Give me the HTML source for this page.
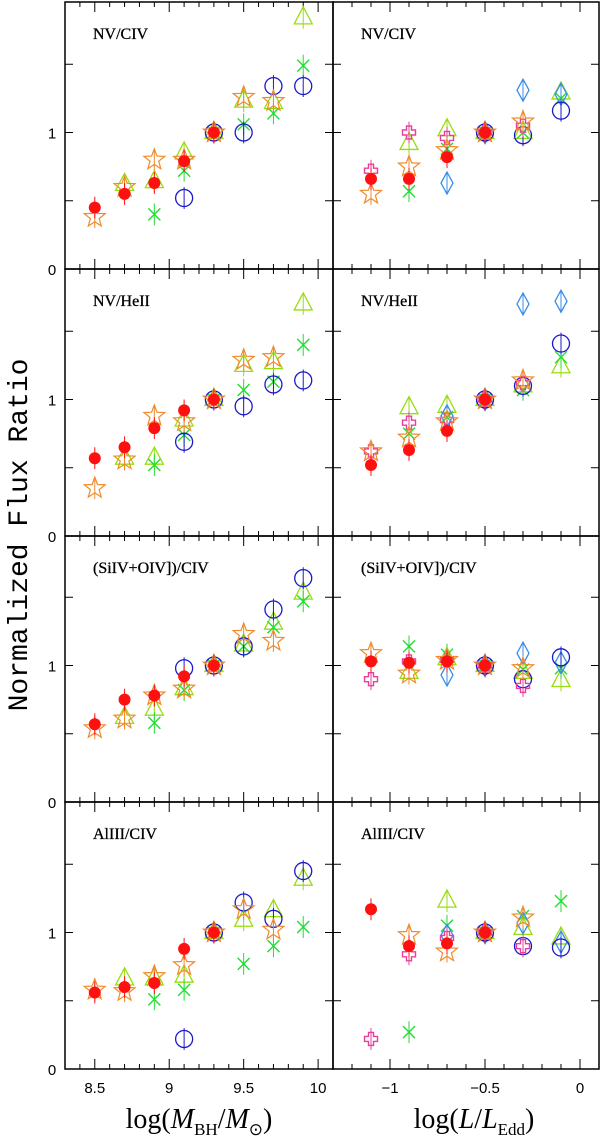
<!DOCTYPE html>
<html><head><meta charset="utf-8"><style>
html,body{margin:0;padding:0;background:#fff;width:600px;height:1141px;overflow:hidden}
svg{display:block}
</style></head><body>
<svg id="chart" width="600" height="1141" viewBox="0 0 600 1141" xmlns="http://www.w3.org/2000/svg">
<text x="0" y="0" transform="translate(27,535) rotate(-90)" text-anchor="middle" font-family="Liberation Mono, monospace" font-size="28" fill="#000">Normalized Flux Ratio</text>
<text x="199" y="1128" text-anchor="middle" font-family="Liberation Serif, serif" font-size="28" fill="#000">log(<tspan font-style="italic">M</tspan><tspan font-size="17" dy="7">BH</tspan><tspan dy="-7">/</tspan><tspan font-style="italic">M</tspan><tspan font-size="17" dy="7">⊙</tspan><tspan dy="-7">)</tspan></text>
<text x="474" y="1128" text-anchor="middle" font-family="Liberation Serif, serif" font-size="28" fill="#000">log(<tspan font-style="italic">L</tspan>/<tspan font-style="italic">L</tspan><tspan font-size="17" dy="7">Edd</tspan><tspan dy="-7">)</tspan></text>
</svg>
<script>
const xsLeft = [8.5,8.7,8.9,9.1,9.3,9.5,9.7,9.9];
const xsRight = [-1.1,-0.9,-0.7,-0.5,-0.3,-0.1];
const panelLabels = ["NV/CIV","NV/HeII","(SiIV+OIV])/CIV","AlIII/CIV"];
const leftTickLabels = ["8.5","9","9.5","10"];
const leftTickValues = [8.5,9,9.5,10];
const rightTickLabels = ["\u22121","\u22120.5","0"];
const rightTickValues = [-1,-0.5,0];
const yTickLabels = ["0","1"];
const yTickValues = [0,1];
const errBar = 0.08;

// Panel 1 (NV/CIV)
const p1L_red  = [0.45,0.55,0.63,0.79,1,null,null,null];
const p1L_star = [0.38,0.60,0.80,0.80,1,1.26,1.23,null];
const p1L_tri  = [null,0.62,0.64,0.85,1,1.23,1.22,1.84];
const p1L_x    = [null,null,0.40,0.72,1,1.06,1.14,1.49];
const p1L_circ = [null,null,null,0.52,1,1.00,1.34,1.34];
const p1R_red  = [0.66,0.66,0.82,1,null,null];
const p1R_star = [0.55,0.75,0.87,1,1.08,null];
const p1R_cross= [0.72,1.00,0.96,1,1.05,null];
const p1R_tri  = [null,0.92,1.02,1,1.00,1.29];
const p1R_x    = [null,0.57,0.88,1,1.00,1.25];
const p1R_circ = [null,null,null,1,0.98,1.16];
const p1R_diam = [null,null,0.63,1,1.31,1.28];
// Panel 2 (NV/HeII)
const p2L_red  = [0.57,0.65,0.79,0.92,1,null,null,null];
const p2L_star = [0.35,0.56,0.88,0.84,1,1.29,1.31,null];
const p2L_tri  = [null,0.57,0.57,0.85,1,1.25,1.27,1.70];
const p2L_x    = [null,null,0.52,0.74,1,1.07,1.13,1.40];
const p2L_circ = [null,null,null,0.69,1,0.95,1.11,1.14];
const p2R_red  = [0.52,0.63,0.77,1,null,null];
const p2R_star = [0.62,0.72,0.84,1,1.14,null];
const p2R_cross= [0.62,0.83,0.85,1,1.12,null];
const p2R_tri  = [null,0.94,0.95,1,1.10,1.24];
const p2R_x    = [null,0.75,0.87,1,1.07,1.31];
const p2R_circ = [null,null,null,1,1.10,1.41];
const p2R_diam = [null,null,0.88,1,1.70,1.72];
// Panel 3 ((SiIV+OIV])/CIV)
const p3L_red  = [0.57,0.75,0.78,0.92,1,null,null,null];
const p3L_star = [0.54,0.61,0.78,0.83,1,1.23,1.18,null];
const p3L_tri  = [null,0.62,0.68,0.83,1,1.15,1.31,1.53];
const p3L_x    = [null,null,0.58,0.82,1,1.14,1.28,1.47];
const p3L_circ = [null,null,null,0.98,1,1.14,1.41,1.64];
const p3R_red  = [1.03,1.02,1.03,1,null,null];
const p3R_star = [1.09,0.94,1.04,1,0.98,null];
const p3R_cross= [0.90,1.03,1.04,1,0.85,null];
const p3R_tri  = [null,0.95,1.05,1,0.95,0.89];
const p3R_x    = [null,1.14,1.08,1,0.97,0.98];
const p3R_circ = [null,null,null,1,0.90,1.06];
const p3R_diam = [null,null,0.93,1,1.09,1.02];
// Panel 4 (AlIII/CIV)
const p4L_red  = [0.56,0.60,0.63,0.88,1,null,null,null];
const p4L_star = [0.58,0.57,0.68,0.76,1,1.17,1.02,null];
const p4L_tri  = [null,0.66,0.66,0.68,1,1.09,1.16,1.39];
const p4L_x    = [null,null,0.51,0.58,1,0.77,0.90,1.04];
const p4L_circ = [null,null,null,0.22,1,1.22,1.10,1.45];
const p4R_red  = [1.17,0.90,0.92,1,null,null];
const p4R_star = [null,0.98,0.86,1,1.11,null];
const p4R_cross= [0.22,0.84,0.96,1,0.90,null];
const p4R_tri  = [null,null,1.23,1,1.03,0.96];
const p4R_x    = [null,0.27,1.05,1,1.12,1.23];
const p4R_circ = [null,null,null,1,0.90,0.89];
const p4R_diam = [null,null,0.98,1,1.07,0.93];

const leftSets = [
 {tri:p1L_tri,x:p1L_x,circ:p1L_circ,star:p1L_star,red:p1L_red},
 {tri:p2L_tri,x:p2L_x,circ:p2L_circ,star:p2L_star,red:p2L_red},
 {tri:p3L_tri,x:p3L_x,circ:p3L_circ,star:p3L_star,red:p3L_red},
 {tri:p4L_tri,x:p4L_x,circ:p4L_circ,star:p4L_star,red:p4L_red}];
const rightSets = [
 {tri:p1R_tri,x:p1R_x,diam:p1R_diam,circ:p1R_circ,cross:p1R_cross,star:p1R_star,red:p1R_red},
 {tri:p2R_tri,x:p2R_x,diam:p2R_diam,circ:p2R_circ,cross:p2R_cross,star:p2R_star,red:p2R_red},
 {tri:p3R_tri,x:p3R_x,diam:p3R_diam,circ:p3R_circ,cross:p3R_cross,star:p3R_star,red:p3R_red},
 {tri:p4R_tri,x:p4R_x,diam:p4R_diam,circ:p4R_circ,cross:p4R_cross,star:p4R_star,red:p4R_red}];

const NS="http://www.w3.org/2000/svg";
const svg=document.getElementById('chart');
const LX0=65, LX1=333, RX0=333, RX1=599;
const xMinL=8.3, xMaxL=10.1, xMinR=-1.3, xMaxR=0.1;
const panelTop=[2,269,536,802], panelBottom=[269,536,802,1069];
const unit=136.5;
function sxL(v){return LX0+(v-xMinL)/(xMaxL-xMinL)*(LX1-LX0);}
function sxR(v){return RX0+(v-xMinR)/(xMaxR-xMinR)*(RX1-RX0);}
function sy(p,v){return panelBottom[p]-v*unit;}
function mk(tag,attrs,parent){const e=document.createElementNS(NS,tag);for(const k in attrs)e.setAttribute(k,attrs[k]);(parent||svg).appendChild(e);return e;}

const COL={red:'#ff1010',star:'#f08a2a',tri:'#99dd11',x:'#22dd33',circ:'#1a1acc',diam:'#3a8ee8',cross:'#e8409a'};

function drawMarker(g,type,cx,cy){
  let e;
  if(type==='red'){e=mk('circle',{cx:cx,cy:cy,r:6,fill:COL.red},g);}
  else if(type==='circ'){e=mk('circle',{cx:cx,cy:cy,r:8.5,fill:'none',stroke:COL.circ,'stroke-width':1.3},g);}
  else if(type==='tri'){e=mk('polygon',{points:`${cx},${cy-11} ${cx-9},${cy+6} ${cx+9},${cy+6}`,fill:'none',stroke:COL.tri,'stroke-width':1.3},g);}
  else if(type==='diam'){e=mk('polygon',{points:`${cx},${cy-11} ${cx+6},${cy} ${cx},${cy+11} ${cx-6},${cy}`,fill:'none',stroke:COL.diam,'stroke-width':1.3},g);}
  else if(type==='x'){e=mk('path',{d:`M${cx-6},${cy-6}L${cx+6},${cy+6}M${cx+6},${cy-6}L${cx-6},${cy+6}`,stroke:COL.x,'stroke-width':1.4,fill:'none'},g);}
  else if(type==='cross'){const a=2.5,b=6.5;e=mk('polygon',{points:`${cx-a},${cy-b} ${cx+a},${cy-b} ${cx+a},${cy-a} ${cx+b},${cy-a} ${cx+b},${cy+a} ${cx+a},${cy+a} ${cx+a},${cy+b} ${cx-a},${cy+b} ${cx-a},${cy+a} ${cx-b},${cy+a} ${cx-b},${cy-a} ${cx-a},${cy-a}`,fill:'none',stroke:COL.cross,'stroke-width':1.4},g);}
  else if(type==='star'){let pts=[];for(let i=0;i<10;i++){const r=i%2?4.6:11;const ang=-Math.PI/2+i*Math.PI/5;pts.push((cx+r*Math.cos(ang)).toFixed(1)+','+(cy+r*Math.sin(ang)).toFixed(1));}
    e=mk('polygon',{points:pts.join(' '),fill:'none',stroke:COL.star,'stroke-width':1.2},g);}
  
  
}

function drawSeries(p,sets,xs,sx,side){
  const order=['tri','x','diam','circ','cross','star','red'];
  order.forEach(t=>{
    const vals=sets[t]; if(!vals) return;
    const g=mk('g',{});
    
    
    vals.forEach((v,i)=>{
      if(v===null) return;
      const cx=sx(xs[i]), cy=sy(p,v);
      const eb=mk('line',{x1:cx,x2:cx,y1:sy(p,v+errBar),y2:sy(p,v-errBar),stroke:COL[t],'stroke-width':1},g);
      
      
      drawMarker(g,t,cx,cy);
    });
  });
}

for(let p=0;p<4;p++){
  const top=panelTop[p], bot=panelBottom[p];
  const fl=mk('rect',{x:LX0,y:top,width:LX1-LX0,height:bot-top,fill:'none',stroke:'#000','stroke-width':1.5});
  
  
  const fr=mk('rect',{x:RX0,y:top,width:RX1-RX0,height:bot-top,fill:'none',stroke:'#000','stroke-width':1.5});
  
  
  for(let k=83;k<=101;k++){const v=k/10;const x=sxL(v);const L=(k%5===0)?10:5;
    mk('line',{x1:x,x2:x,y1:bot,y2:bot-L,stroke:'#000','stroke-width':1});
    mk('line',{x1:x,x2:x,y1:top,y2:top+L,stroke:'#000','stroke-width':1});}
  for(let k=-13;k<=1;k++){const v=k/10;const x=sxR(v);const L=(k%5===0)?10:5;
    mk('line',{x1:x,x2:x,y1:bot,y2:bot-L,stroke:'#000','stroke-width':1});
    mk('line',{x1:x,x2:x,y1:top,y2:top+L,stroke:'#000','stroke-width':1});}
  [0.5,1,1.5].forEach(v=>{const y=sy(p,v);
    [[LX0,8],[LX1,-8],[RX0,8],[RX1,-8]].forEach(([x,d])=>mk('line',{x1:x,x2:x+d,y1:y,y2:y,stroke:'#000','stroke-width':1}));});
  yTickValues.forEach((v,i)=>{const t=mk('text',{x:52,y:sy(p,v)+6,'text-anchor':'middle','font-family':'Liberation Sans, sans-serif','font-size':15});t.textContent=yTickLabels[i];
    
    });
  [[LX0+28,'left'],[RX0+28,'right']].forEach(([x,s])=>{const t=mk('text',{x:x,y:top+37,'font-family':'Liberation Serif, serif','font-size':16,'stroke':'#000','stroke-width':0.3});t.textContent=panelLabels[p];
    
    });
  drawSeries(p,leftSets[p],xsLeft,sxL,'left');
  drawSeries(p,rightSets[p],xsRight,sxR,'right');
}
leftTickValues.forEach((v,i)=>{const t=mk('text',{x:sxL(v),y:1093,'text-anchor':'middle','font-family':'Liberation Sans, sans-serif','font-size':15});t.textContent=leftTickLabels[i];
  
  });
rightTickValues.forEach((v,i)=>{const t=mk('text',{x:sxR(v),y:1093,'text-anchor':'middle','font-family':'Liberation Sans, sans-serif','font-size':15});t.textContent=rightTickLabels[i];
  
  });
</script>
</body></html>
